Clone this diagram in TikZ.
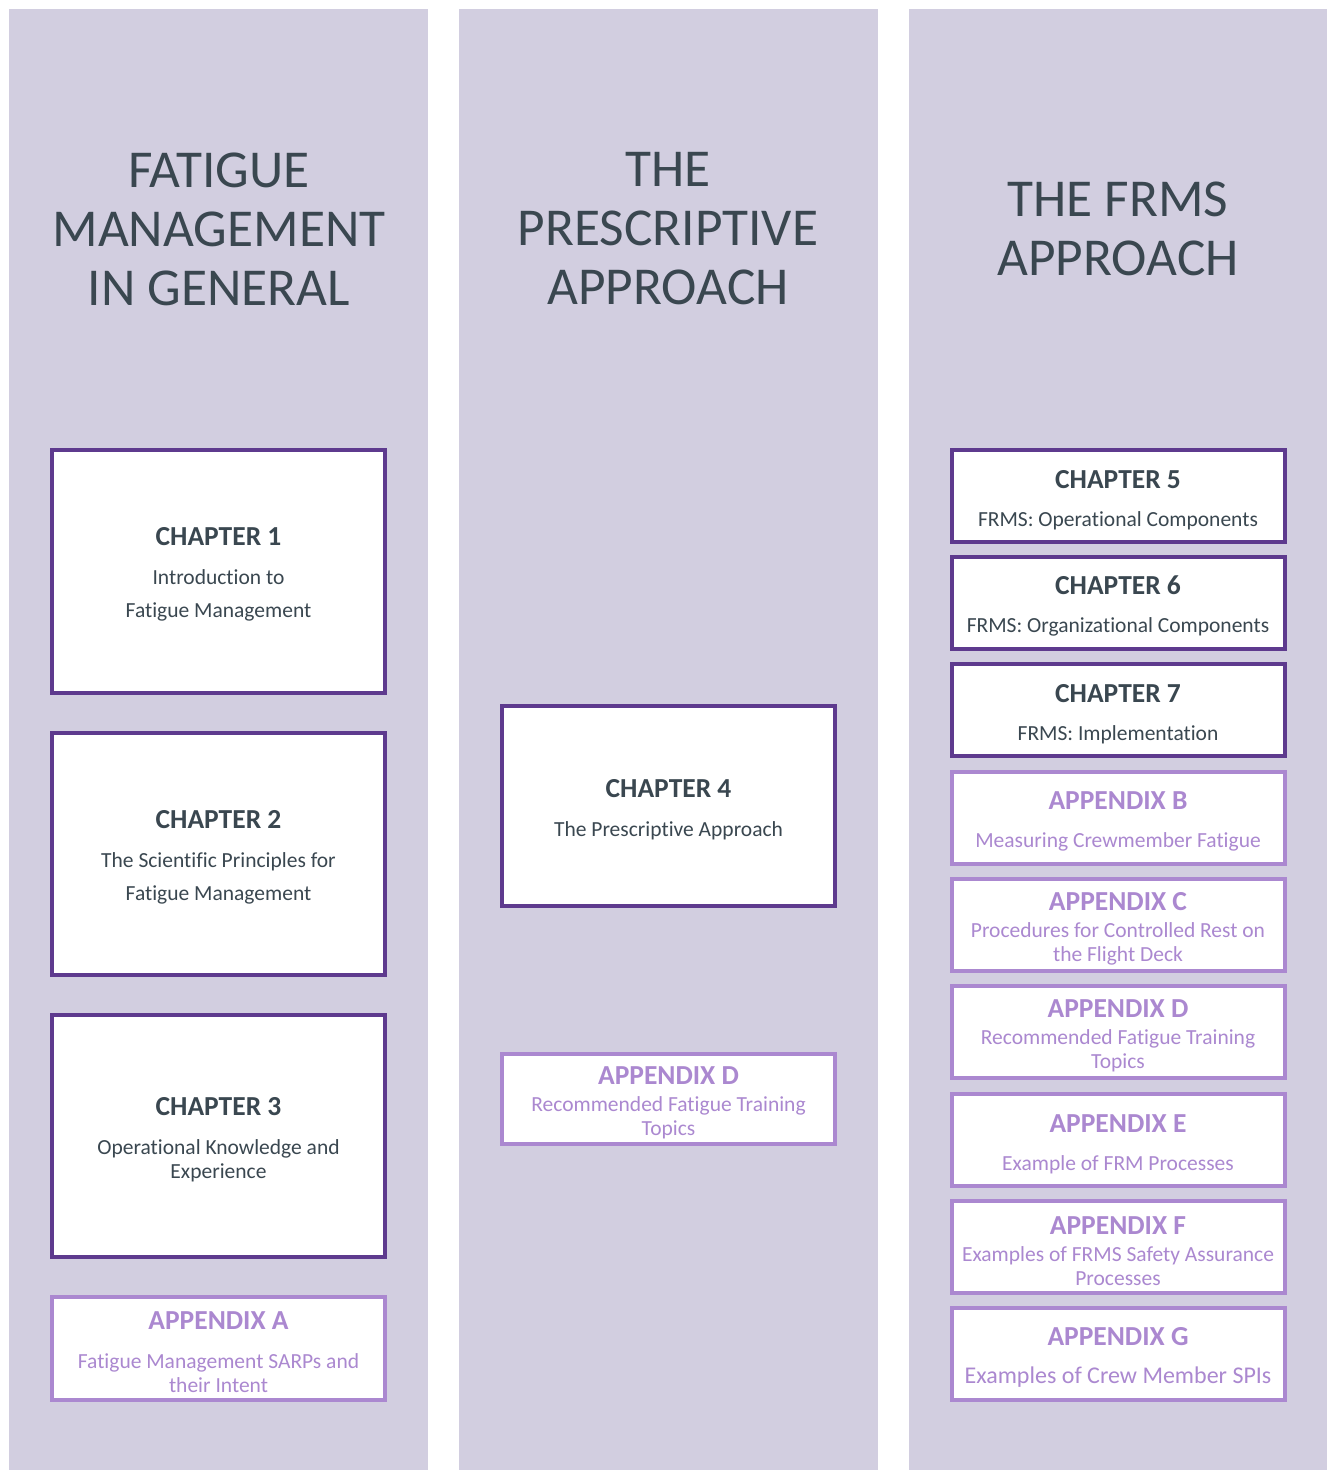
\documentclass[tikz,border=0pt]{standalone}
\usepackage{fontspec}
\setmainfont{Carlito}[Ligatures={CommonOff}]
\definecolor{colbg}{RGB}{210,206,224}
\definecolor{darkpurple}{RGB}{94,58,142}
\definecolor{lightpurple}{RGB}{171,136,208}
\definecolor{slate}{RGB}{58,71,80}
\newcommand{\boxhead}[1]{{\fontsize{27.5}{30}\selectfont\bfseries\rule{0pt}{25.5pt}#1}}
\tikzset{
  column/.style={fill=colbg, draw=none},
  coltitle/.style={text=slate, align=center, font=\fontsize{53.3}{59}\selectfont},
  chapbox/.style={draw=darkpurple, line width=4pt, fill=white, text=slate, align=center,
    minimum width=333pt, inner sep=0pt, font=\fontsize{21.5}{24}\selectfont},
  appbox/.style={chapbox, draw=lightpurple, text=lightpurple},
}
\begin{document}
\begin{tikzpicture}[x=1pt,y=-1pt]
                \useasboundingbox (0,0) rectangle (1327,1470);
                \fill[white] (0,0) rectangle (1327,1470);
                % columns
                \fill[column] (9,9) rectangle (428,1470);
                \fill[column] (459,9) rectangle (878,1470);
                \fill[column] (909,9) rectangle (1327,1470);
                \node[coltitle] (t1) at (219,229) {FATIGUE\\MANAGEMENT\\IN GENERAL};
                \node[coltitle] (t2) at (668,229) {THE\\PRESCRIPTIVE\\APPROACH};
                \node[coltitle] (t3) at (1118,229) {THE FRMS\\APPROACH};
                % fatigue management in general
                \node[chapbox, minimum height=243pt] (ch1) at (218.5,571)
                    {\boxhead{CHAPTER 1}\\[15pt]Introduction to\\[9pt]Fatigue Management};
                \node[chapbox, minimum height=242pt] (ch2) at (218.5,854)
                    {\boxhead{CHAPTER 2}\\[15pt]The Scientific Principles for\\[9pt]Fatigue Management};
                \node[chapbox, minimum height=242pt] (ch3) at (218.5,1136)
                    {\boxhead{CHAPTER 3}\\[15pt]Operational Knowledge and\\Experience};
                \node[appbox, minimum height=103pt] (appa) at (218.5,1348.5)
                    {\boxhead{APPENDIX A}\\[15pt]Fatigue Management SARPs and\\their Intent};
                % prescriptive approach
                \node[chapbox, minimum height=200pt] (ch4) at (668.5,806)
                    {\boxhead{CHAPTER 4}\\[15pt]The Prescriptive Approach};
                \node[appbox, minimum height=90pt] (appd) at (668.5,1099)
                    {\boxhead{APPENDIX D}\\[3pt]Recommended Fatigue Training\\Topics};
                % frms approach
                \node[chapbox, minimum height=92pt] (ch5) at (1118,496)
                    {\boxhead{CHAPTER 5}\\[14pt]FRMS: Operational Components};
                \node[chapbox, minimum height=92pt] (ch6) at (1118,603)
                    {\boxhead{CHAPTER 6}\\[14pt]FRMS: Organizational Components};
                \node[chapbox, minimum height=92pt] (ch7) at (1118,710)
                    {\boxhead{CHAPTER 7}\\[14pt]FRMS: Implementation};
                \node[appbox, minimum height=92pt] (appb) at (1118,818)
                    {\boxhead{APPENDIX B}\\[14pt]Measuring Crewmember Fatigue};
                \node[appbox, minimum height=92pt] (appc) at (1118,925)
                    {\boxhead{APPENDIX C}\\[3pt]Procedures for Controlled Rest on\\the Flight Deck};
                \node[appbox, minimum height=92pt] (appd3) at (1118,1032)
                    {\boxhead{APPENDIX D}\\[3pt]Recommended Fatigue Training\\Topics};
                \node[appbox, minimum height=92pt] (appe) at (1118,1140)
                    {\boxhead{APPENDIX E}\\[14pt]Example of FRM Processes};
                \node[appbox, minimum height=92pt] (appf) at (1118,1247)
                    {\boxhead{APPENDIX F}\\[3pt]Examples of FRMS Safety Assurance\\Processes};
                \node[appbox, minimum height=92pt] (appg) at (1118,1354)
                    {\boxhead{APPENDIX G}\\[14pt]{\fontsize{24}{24}\selectfont Examples of Crew Member SPIs}};
\end{tikzpicture}
\end{document}
